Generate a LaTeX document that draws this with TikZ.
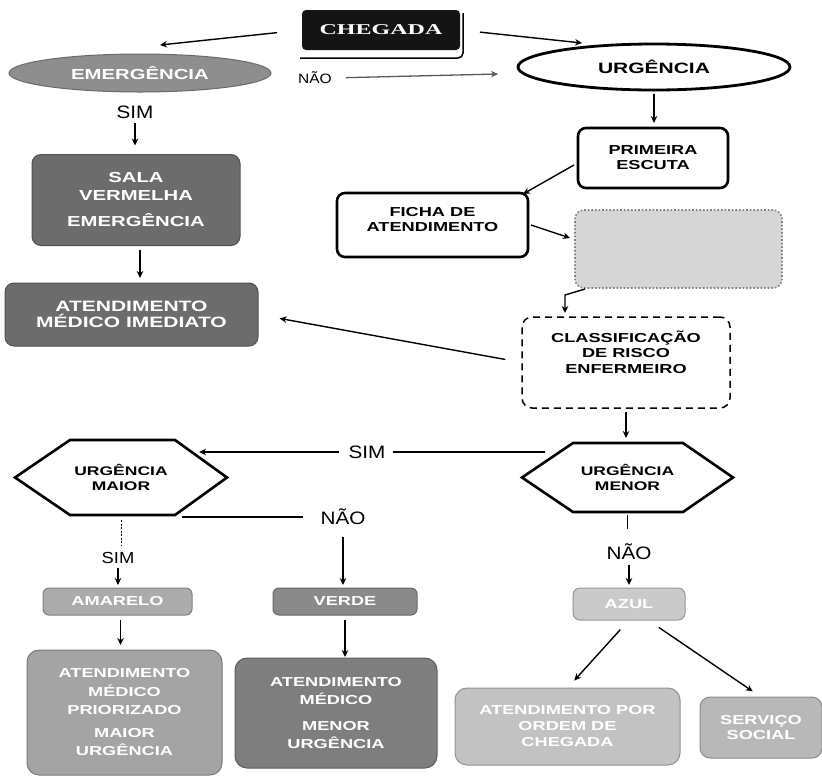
\documentclass[tikz,border=0pt]{standalone}
\usepackage{fontspec}
\setmainfont{Liberation Sans}
\newfontfamily\wideb{Liberation Sans}[FakeStretch=1.4]
\newfontfamily\wides{Liberation Serif}[FakeStretch=1.6]
\newfontfamily\labf{Liberation Sans}[FakeStretch=1.15]
\usetikzlibrary{arrows.meta,calc,shapes.geometric}
\definecolor{gdark}{HTML}{6C6C6C}
\definecolor{gemerg}{HTML}{8E8E8E}
\definecolor{gamar}{HTML}{ABABAB}
\definecolor{gverde}{HTML}{8A8A8A}
\definecolor{gmaior}{HTML}{A4A4A4}
\definecolor{gmenor}{HTML}{7E7E7E}
\definecolor{gazul}{HTML}{CACACA}
\definecolor{gordem}{HTML}{C2C2C2}
\definecolor{gserv}{HTML}{B8B8B8}
\definecolor{gblur}{HTML}{D6D6D6}
\begin{document}
\begin{tikzpicture}[x=1pt,y=-1pt,
  arr/.style={line width=1.4pt,-{Stealth[length=7pt,width=6.5pt]}},
  base/.style={inner sep=0pt,outer sep=0pt,align=center},
  wtxt/.style={font=\wideb\bfseries\fontsize{13}{16}\selectfont},
  gbox/.style={base,wtxt,rounded corners=9pt,text=white,draw=#1!75!black,fill=#1,line width=1pt},
  wbox/.style={base,wtxt,rounded corners=8pt,draw=black,fill=white,line width=2.6pt},
  lab/.style={base,font=\labf\fontsize{18}{20}\selectfont},
  hexline/.style={line width=2.6pt,line join=miter}
]
\useasboundingbox (0,0) rectangle (822,780);

% top
\node[base,font=\wides\bfseries\fontsize{15}{17}\selectfont,text=white,fill=black!92,rounded corners=4pt,minimum width=158pt,minimum height=40pt] (chegada) at (381,30) {CHEGADA};
\draw[line width=1.5pt,rounded corners=5pt] ($(chegada.north east)+(3,3)$) -- ($(chegada.south east)+(3,8)$) -- ($(chegada.south west)+(-2,8)$);

\node[base,ellipse,wtxt,font=\wideb\bfseries\fontsize{14.5}{17}\selectfont,text=white,fill=gemerg,draw=gemerg!75!black,line width=1pt,minimum width=262pt,minimum height=38pt] (emerg) at (140,73) {EMERGÊNCIA};
\node[base,ellipse,wtxt,font=\wideb\bfseries\fontsize{15}{17}\selectfont,draw=black,fill=white,line width=2.8pt,minimum width=272pt,minimum height=46pt] (urg) at (654,67) {URGÊNCIA};

\draw[arr,shorten <=25pt] (chegada.west) -- ($(emerg.north)+(20,-9)$);
\draw[arr,shorten <=20pt] (chegada.east) -- ($(urg.north)+(-72,-1)$);

\node[lab,font=\labf\fontsize{13.5}{16}\selectfont] (nao1) at (315,78) {NÃO};
\draw[arr,gray!70!black,line width=1.3pt,shorten <=14pt] (nao1.east) -- ($(urg.west)+(-20,7)$);

% left column
\node[lab] (sim1) at (135,112) {SIM};
\node[gbox=gdark,font=\wideb\bfseries\fontsize{14.5}{18}\selectfont,minimum width=208pt,minimum height=91pt] (sala) at (136,200) {SALA\\VERMELHA\\[8pt]EMERGÊNCIA};
\draw[arr,shorten <=5pt,shorten >=9pt] (sim1.south) -- (sim1.south |- sala.north);
\node[gbox=gdark,font=\wideb\bfseries\fontsize{15}{16}\selectfont,minimum width=253pt,minimum height=63pt] (imed) at (131.5,314.5) {ATENDIMENTO\\MÉDICO IMEDIATO};
\draw[arr,shorten <=4pt,shorten >=5pt] ($(sala.south)+(4,0)$) -- ($(sala.south |- imed.north)+(4,0)$);

% right column
\node[wbox,font=\wideb\bfseries\fontsize{13}{15}\selectfont,minimum width=150pt,minimum height=60pt] (prim) at (653,158) {PRIMEIRA\\ESCUTA};
\draw[arr,shorten <=4pt,shorten >=5pt] (urg.south) -- (urg.south |- prim.north);
\node[wbox,font=\wideb\bfseries\fontsize{13}{15}\selectfont,minimum width=191pt,minimum height=64pt] (ficha) at (432.5,225) {FICHA DE\\ATENDIMENTO\\[-4pt]};
\draw[arr] ($(prim.west)+(-4,7)$) -- ($(ficha.north east)+(-5,1)$);
\node[base,rounded corners=9pt,fill=gblur,draw=gray,dotted,line width=1.6pt,minimum width=207pt,minimum height=78pt] (blur) at (678.5,249) {};
\draw[arr] ($(ficha.east)+(3,0)$) -- ($(blur.west)+(-5,-11)$);
\node[base,rounded corners=10pt,draw=black,dashed,dash pattern=on 7pt off 5pt,line width=1.5pt,minimum width=208pt,minimum height=91pt] (classif) at (626,362.5) {};
\node[base,wtxt,font=\wideb\bfseries\fontsize{13}{15.5}\selectfont] (classiftxt) at (626,352) {CLASSIFICAÇÃO\\DE RISCO\\ENFERMEIRO};
\draw[arr] ($(blur.south west)+(10,1)$) -- ++(-20,6) -- ($(classif.north west)+(43,-4)$);
\draw[arr,shorten <=17pt,shorten >=22pt] (classif.west) -- (imed.east);

% hexagons
\node[base,wtxt,font=\wideb\bfseries\fontsize{12.5}{14.5}\selectfont,minimum width=211pt,minimum height=69pt] (menor) at (627.5,477.5) {URGÊNCIA\\MENOR};
\draw[hexline] (menor.west) -- ($(menor.north west)+(51,0)$) -- ($(menor.north east)+(-50,0)$) -- (menor.east) -- ($(menor.south east)+(-50,0)$) -- ($(menor.south west)+(51,0)$) -- cycle;
\node[base,wtxt,font=\wideb\bfseries\fontsize{12.5}{14.5}\selectfont,minimum width=212pt,minimum height=75pt] (maior) at (121,477.5) {URGÊNCIA\\MAIOR};
\draw[hexline] (maior.west) -- ($(maior.north west)+(55,0)$) -- ($(maior.north east)+(-52,0)$) -- (maior.east) -- ($(maior.south east)+(-52,0)$) -- ($(maior.south west)+(55,0)$) -- cycle;
\draw[arr,shorten <=4pt,shorten >=5pt] (classif.south) -- (classif.south |- menor.north);

\node[lab] (simh) at (367,452) {SIM};
\draw[line width=1.3pt,shorten >=8pt] ($(menor.north west)+(23,9)$) -- (simh.east);
\draw[arr,shorten <=10pt] (simh.west) -- ($(maior.north east)+(-28,12)$);

\node[lab] (naoh) at (343,517) {NÃO};
\draw[line width=1.3pt,shorten >=18pt] ($(maior.south east)+(-45,2)$) -- (naoh.west);

% bottom left
\node[lab,font=\labf\fontsize{16}{18}\selectfont] (sim2) at (118,558) {SIM};
\draw[line width=1pt,dash pattern=on 2pt off 1.5pt,shorten <=5pt,shorten >=7pt] (maior.south) -- (maior.south |- sim2.north);
\node[gbox=gamar,minimum width=149pt,minimum height=27pt,rounded corners=6pt] (amar) at (117.5,601.5) {AMARELO};
\draw[arr,shorten <=4pt,shorten >=3pt] (sim2.south) -- (sim2.south |- amar.north);
\node[gbox=gverde,minimum width=144pt,minimum height=27pt,rounded corners=6pt] (verde) at (345,601.5) {VERDE};
\draw[arr,shorten <=12pt,shorten >=3pt] (naoh.south) -- (naoh.south |- verde.north);
\node[gbox=gmaior,font=\wideb\bfseries\fontsize{13}{18.5}\selectfont,minimum width=195pt,minimum height=125pt,rounded corners=12pt] (mbox) at (124.5,712.5) {ATENDIMENTO\\MÉDICO\\PRIORIZADO\\[4pt]MAIOR\\URGÊNCIA};
\draw[arr,shorten <=5pt,shorten >=5pt] ($(amar.south)+(3,0)$) -- ($(amar.south |- mbox.north)+(3,0)$);
\node[gbox=gmenor,font=\wideb\bfseries\fontsize{13}{18}\selectfont,minimum width=202pt,minimum height=110pt,rounded corners=12pt] (nbox) at (336,713) {ATENDIMENTO\\MÉDICO\\[8pt]MENOR\\URGÊNCIA};
\draw[arr,shorten <=5pt,shorten >=1pt] (verde.south) -- (verde.south |- nbox.north);

% bottom right
\node[lab] (nao3) at (629,552) {NÃO};
\draw[line width=1pt,shorten <=3pt,shorten >=15pt] (menor.south) -- (menor.south |- nao3.north);
\node[gbox=gazul,minimum width=112pt,minimum height=32pt,rounded corners=7pt] (azul) at (629,604) {AZUL};
\draw[arr,shorten <=5pt,shorten >=3pt] (nao3.south) -- (nao3.south |- azul.north);
\node[gbox=gordem,font=\wideb\bfseries\fontsize{13}{16}\selectfont,minimum width=225pt,minimum height=77pt,rounded corners=12pt] (ordem) at (567.5,726.5) {ATENDIMENTO POR\\ORDEM DE\\CHEGADA};
\node[gbox=gserv,font=\wideb\bfseries\fontsize{13}{15}\selectfont,minimum width=122pt,minimum height=61pt,rounded corners=10pt] (serv) at (761,727.5) {SERVIÇO\\SOCIAL};
\draw[arr,shorten <=13pt,shorten >=10pt] (azul.south) -- (ordem.north);
\draw[arr,shorten <=13pt,shorten >=10pt] ($(azul.south)+(19,0)$) -- (serv.north);
\end{tikzpicture}
\end{document}
